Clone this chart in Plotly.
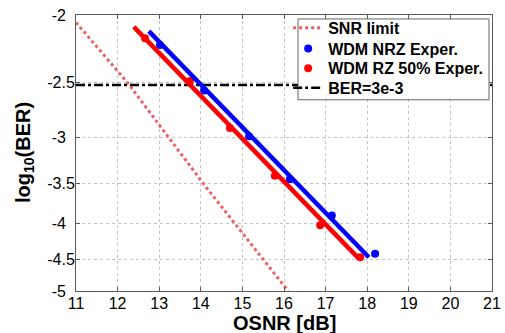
import math
import plotly.graph_objects as go

# Data (log10(BER) values)
nrz_osnr = [13.02, 14.08, 15.16, 16.14, 17.15, 18.19]
nrz_logber = [-2.21, -2.57, -2.99, -3.45, -3.89, -4.42]
rz_osnr = [12.66, 13.74, 14.70, 15.78, 16.87, 17.83]
rz_logber = [-2.16, -2.49, -2.91, -3.41, -4.02, -4.47]

nrz_fit_osnr = [12.75, 18.04]
nrz_fit_logber = [-2.11, -4.47]
rz_fit_osnr = [12.39, 17.80]
rz_fit_logber = [-2.08, -4.49]

snr_osnr = [11.0, 12.23, 14.06, 16.10]
snr_logber = [-2.05, -2.50, -3.50, -5.00]

ber_thr_osnr = [11, 21]
ber_thr_logber = [-2.523, -2.523]

ytick_vals = [-2, -2.5, -3, -3.5, -4, -4.5, -5]
PAD = "<span style='color:rgba(0,0,0,0)'>0</span>"
ytick_text = ["-2" + PAD, "-2.5", "-3" + PAD, "-3.5", "-4" + PAD, "-4.5", "-5" + PAD]
xtick_vals = list(range(11, 22))


def neg(a):
    return [-v for v in a]


FONT = "Liberation Sans, Arial, sans-serif"

fig = go.Figure()
fig.add_trace(go.Scatter(x=snr_osnr, y=neg(snr_logber), mode="lines", name="SNR limit",
                         legend="legend",
                         line=dict(color="rgb(238,95,95)", width=3, dash="dot")))
fig.add_trace(go.Scatter(x=nrz_osnr, y=neg(nrz_logber), mode="markers", name="WDM NRZ Exper.",
                         legend="legend2",
                         marker=dict(color="rgb(0,0,255)", size=8)))
fig.add_trace(go.Scatter(x=rz_osnr, y=neg(rz_logber), mode="markers", name="WDM RZ 50% Exper.",
                         legend="legend3",
                         marker=dict(color="rgb(255,0,0)", size=8)))
fig.add_trace(go.Scatter(x=ber_thr_osnr, y=neg(ber_thr_logber), mode="lines", name="BER=3e-3",
                         legend="legend4",
                         line=dict(color="black", width=2.5, dash="dashdot")))
fig.add_trace(go.Scatter(x=nrz_fit_osnr, y=neg(nrz_fit_logber), mode="lines", showlegend=False,
                         line=dict(color="rgb(0,0,255)", width=4.5)))
fig.add_trace(go.Scatter(x=rz_fit_osnr, y=neg(rz_fit_logber), mode="lines", showlegend=False,
                         line=dict(color="rgb(255,0,0)", width=4.5)))

axis_common = dict(showgrid=True, gridcolor="rgb(195,195,195)", griddash="dot", gridwidth=1,
                   showline=True, linecolor="rgb(90,90,90)", linewidth=1, mirror="ticks",
                   ticks="inside", ticklen=4, tickcolor="rgb(90,90,90)", zeroline=False,
                   automargin=False, tickfont=dict(size=16, family=FONT, color="black"))


def leg(row_center_px):
    return dict(x=0.510, y=(291 - row_center_px) / 280, xanchor="left", yanchor="middle",
                bgcolor="rgba(0,0,0,0)", borderwidth=0,
                font=dict(size=16, family=FONT, weight="bold"), itemwidth=30)


fig.update_layout(
    width=505, height=333,
    margin=dict(l=76, r=13, t=11, b=42),
    paper_bgcolor="white", plot_bgcolor="white",
    font=dict(family=FONT, size=16, color="black"),
    showlegend=True,
    legend=leg(24), legend2=leg(45), legend3=leg(65), legend4=leg(85),
    xaxis=dict(range=[11, 21], tickvals=xtick_vals, ticklabelstandoff=-2, **axis_common),
    yaxis=dict(type="log", range=[math.log10(5), math.log10(2)],
               tickvals=neg(ytick_vals), ticktext=ytick_text, ticklabelstandoff=-3,
               **axis_common),
    shapes=[
        dict(type="rect", xref="paper", yref="paper", layer="above",
             x0=(298 - 76) / 416, x1=(489 - 76) / 416,
             y0=(291 - 97) / 280, y1=(291 - 15) / 280,
             fillcolor="white", line=dict(color="rgb(100,100,100)", width=1)),
    ],
    annotations=[
        dict(text="<b>OSNR [dB]</b>", xref="paper", yref="paper", x=0.5, y=0,
             xanchor="center", yanchor="middle", yshift=-32, showarrow=False,
             font=dict(size=20, family=FONT)),
        dict(text="<b>log<sub>10</sub>(BER)</b>", xref="paper", yref="paper", x=0, y=0.5,
             xanchor="center", yanchor="middle", xshift=-52, showarrow=False, textangle=-90,
             font=dict(size=20, family=FONT)),
    ],
)
fig.write_html("out.html", config={"displayModeBar": False},
               post_script="document.body.style.margin='0';document.body.style.overflow='hidden';")
